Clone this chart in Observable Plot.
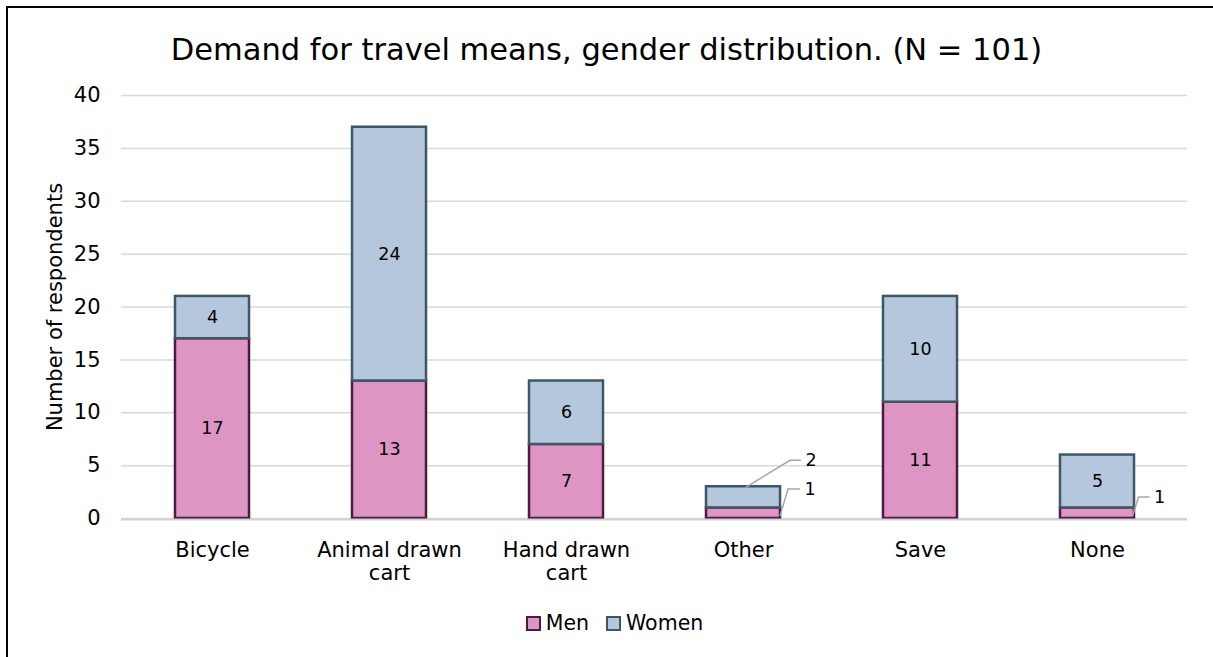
<!DOCTYPE html>
<html>
<head>
<meta charset="utf-8">
<script src="https://cdn.jsdelivr.net/npm/d3@7"></script>
<script src="https://cdn.jsdelivr.net/npm/@observablehq/plot@0.6"></script>
<style>
  html, body { margin: 0; padding: 0; background: #fff; }
  #page { position: relative; width: 1213px; height: 657px; overflow: hidden; font-family: "DejaVu Sans", Verdana, sans-serif; color: #000; }
  #frame { position: absolute; left: 6px; top: 6px; width: 1400px; height: 800px; border-left: 2px solid #000; border-top: 2px solid #000; }
  #title { position: absolute; left: 0; width: 1213px; top: 31px; text-align: center; font-size: 30.5px; line-height: 38px; }
  #chart { position: absolute; left: 0; top: 80px; }
  #legend { position: absolute; left: 8px; width: 1213px; top: 609px; display: flex; justify-content: center; gap: 17px; font-size: 20.5px; line-height: 28px; }
  .item { display: flex; align-items: center; gap: 5px; }
  .swatch { width: 11px; height: 11px; border: 2px solid; }
</style>
</head>
<body>
<div id="page">
  <div id="frame"></div>
  <div id="title">Demand for travel means, gender distribution. (N = 101)</div>
  <div id="chart"></div>
  <div id="legend"></div>
</div>
<script>
// Survey answers: preferred means of travel, by gender
const categories = ["Bicycle", "Animal drawn cart", "Hand drawn cart", "Other", "Save", "None"];
const tickLabels = ["Bicycle", "Animal drawn\ncart", "Hand drawn\ncart", "Other", "Save", "None"];
const men = [17, 13, 7, 1, 11, 1];
const women = [4, 24, 6, 2, 10, 5];
const series = ["Men", "Women"];
const yTicks = [0, 5, 10, 15, 20, 25, 30, 35, 40];

const fills = {Men: "#dd96c4", Women: "#b5c7dc"};
const strokes = {Men: "#4e1b40", Women: "#3d5864"};

const rows = categories.flatMap((c, i) => [
  {category: c, gender: "Men", value: men[i]},
  {category: c, gender: "Women", value: women[i]}
]);

// Small segments get their label outside, on a leader line
const isCallout = d => d.value <= 2;

// Leader-line geometry (pixel offsets from an anchor on the segment)
const calloutStyle = {
  "Other|Women": {ax: 0.04, at: "top", ex: 44, ey: -27, len: 11},
  "Other|Men": {ax: 0.5, at: "bottom", ex: 8, ey: -27, len: 12},
  "None|Men": {ax: 0.48, at: "bottom", ex: 6, ey: -19, len: 11}
};

function callouts(index, scales) {
  const g = d3.create("svg:g");
  const bw = scales.x.bandwidth ? scales.x.bandwidth() : 0;
  rows.forEach(d => {
    if (!isCallout(d)) return;
    const s = calloutStyle[d.category + "|" + d.gender];
    if (!s) return;
    const i = categories.indexOf(d.category);
    const base = d.gender === "Men" ? 0 : men[i];
    const cx = scales.x(d.category) + bw / 2;
    const x0 = cx + s.ax * bw;
    const y0 = s.at === "top" ? scales.y(base + d.value) + 1 : scales.y(base) - 2;
    const x1 = x0 + s.ex, y1 = y0 + s.ey, x2 = x1 + s.len;
    g.append("path")
      .attr("d", `M${x0},${y0}L${x1},${y1}L${x2},${y1}`)
      .attr("fill", "none")
      .attr("stroke", "#a6a6a6")
      .attr("stroke-width", 1.5);
    g.append("text")
      .attr("x", x2 + 10)
      .attr("y", y1)
      .attr("dy", "0.35em")
      .attr("font-size", 17.5)
      .attr("fill", "#000")
      .text(d.value);
  });
  return g.node();
}

const chart = Plot.plot({
  width: 1213,
  height: 510,
  marginTop: 15,
  marginBottom: 72,
  marginLeft: 121,
  marginRight: 26,
  style: {fontFamily: "DejaVu Sans, Verdana, sans-serif", fontSize: "21px", color: "#000", background: "transparent"},
  x: {domain: categories, paddingInner: 0.583, paddingOuter: 0.2915, label: null, axis: null},
  y: {domain: [0, 40], label: null, axis: null},
  color: {type: "identity"},
  marks: [
    Plot.gridY(yTicks, {stroke: "#d9d9d9", strokeOpacity: 1, strokeWidth: 1.5}),
    Plot.axisY(yTicks, {tickSize: 0, tickPadding: 21, label: null, fontSize: 21}),
    Plot.axisX({
      tickSize: 0, tickPadding: 22, label: null, fontSize: 21, lineHeight: 1.1,
      tickFormat: d => tickLabels[categories.indexOf(d)]
    }),
    Plot.text(["Number of respondents"], {
      frameAnchor: "left", rotate: -90, dx: -66, textAnchor: "middle", fontSize: 21, text: d => d
    }),
    Plot.barY(rows, Plot.stackY({
      x: "category", y: "value", z: "gender", order: series,
      fill: d => fills[d.gender], stroke: d => strokes[d.gender], strokeWidth: 2.5
    })),
    Plot.ruleY([0], {stroke: "#d0d0d0", strokeWidth: 2, dy: 1}),
    Plot.text(rows, Plot.stackY({
      x: "category", y: "value", z: "gender", order: series,
      text: d => isCallout(d) ? "" : String(d.value), fontSize: 17.5, fill: "#000"
    })),
    callouts
  ]
});
document.getElementById("chart").appendChild(chart);

// Legend
const legend = d3.select("#legend");
series.forEach(s => {
  const item = legend.append("div").attr("class", "item");
  item.append("div").attr("class", "swatch").style("background", fills[s]).style("border-color", strokes[s]);
  item.append("span").text(s);
});
</script>
</body>
</html>
